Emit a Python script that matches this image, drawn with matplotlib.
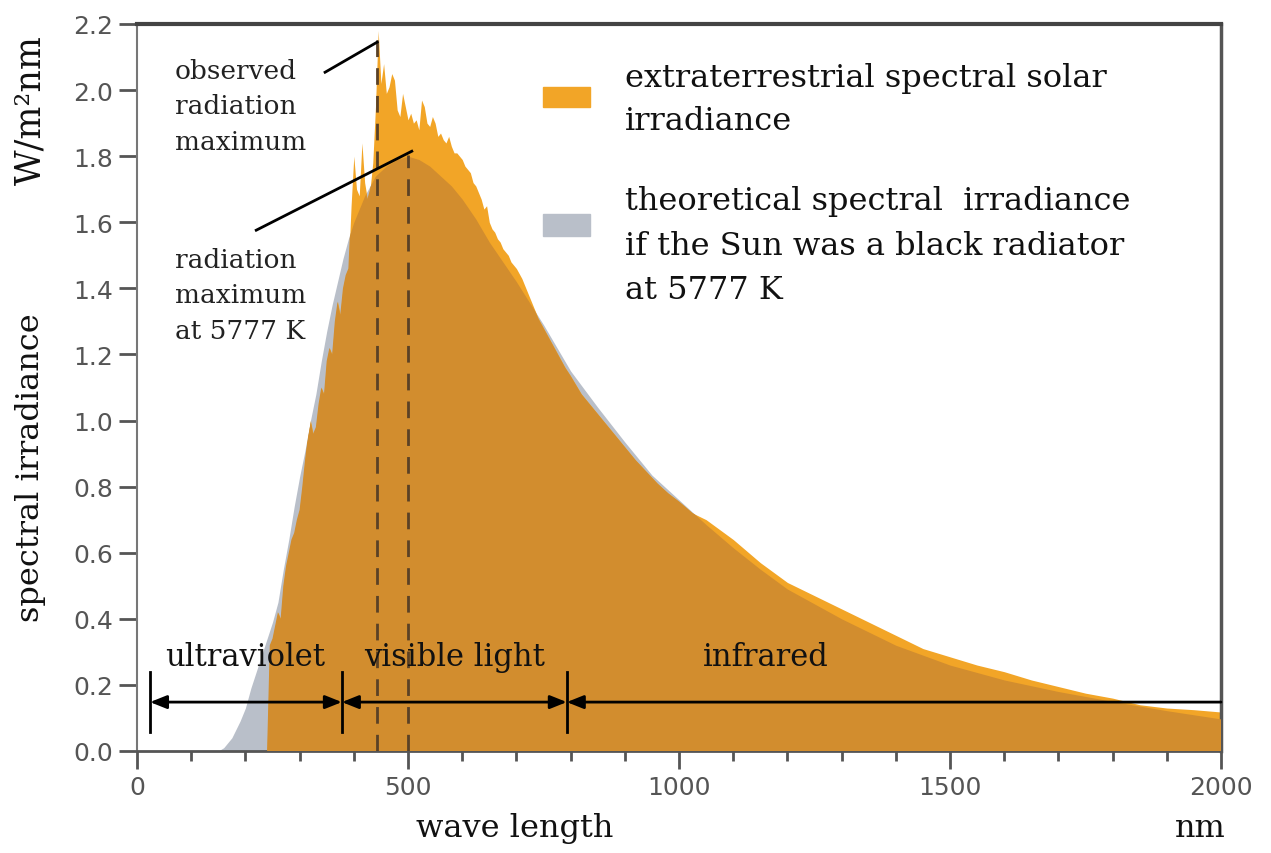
import numpy as np
import matplotlib
matplotlib.use("Agg")
import matplotlib.pyplot as plt
from matplotlib.patches import Rectangle

# theoretical black body curve (5777 K)
bb_nm = [150, 160, 175, 190, 200, 210, 220, 230, 240, 250, 260, 270, 280, 290,
         300, 310, 320, 330, 340, 350, 360, 370, 380, 390, 400, 420, 440, 460,
         480, 500, 520, 540, 560, 580, 600, 625, 650, 675, 700, 750, 800, 850,
         900, 950, 1000, 1050, 1100, 1150, 1200, 1300, 1400, 1500, 1600, 1700,
         1800, 1900, 2000]
bb_val = [0.0, 0.01, 0.04, 0.09, 0.13, 0.19, 0.24, 0.29, 0.34, 0.39, 0.45, 0.55,
          0.64, 0.74, 0.83, 0.91, 1.00, 1.08, 1.18, 1.27, 1.35, 1.42, 1.49, 1.55,
          1.60, 1.68, 1.74, 1.77, 1.79, 1.80, 1.79, 1.77, 1.74, 1.71, 1.67, 1.61,
          1.54, 1.48, 1.42, 1.29, 1.15, 1.04, 0.935, 0.835, 0.76, 0.685, 0.615,
          0.55, 0.49, 0.40, 0.32, 0.26, 0.215, 0.18, 0.15, 0.122, 0.097]

# extraterrestrial solar spectrum
sun_nm = [240, 245, 250, 255, 260, 265, 270, 275, 280, 285, 290, 295, 300, 305,
          310, 315, 320, 325, 330, 335, 340, 345, 350, 355, 360, 365, 370, 375,
          380, 385, 390, 395, 400, 405, 410, 415, 420, 425, 430, 435, 440, 445,
          450, 455, 460, 465, 470, 475, 480, 485, 490, 495, 500, 505, 510, 515,
          520, 525, 530, 535, 540, 545, 550, 555, 560, 565, 570, 575, 580, 585,
          590, 595, 600, 605, 610, 615, 620, 625, 630, 635, 640, 645, 650, 655,
          660, 665, 670, 675, 680, 685, 690, 695, 700, 710, 720, 730, 740, 750,
          760, 770, 780, 790, 800, 820, 840, 860, 880, 900, 920, 940, 960, 980,
          1000, 1025, 1050, 1075, 1100, 1150, 1200, 1250, 1300, 1350, 1400, 1450,
          1500, 1550, 1600, 1650, 1700, 1750, 1800, 1850, 1900, 1950, 2000]
sun_val = [0.00, 0.32, 0.34, 0.38, 0.42, 0.40, 0.50, 0.56, 0.60, 0.64, 0.66, 0.70,
           0.73, 0.80, 0.88, 0.95, 1.00, 0.96, 0.98, 1.05, 1.10, 1.08, 1.18, 1.22,
           1.20, 1.30, 1.36, 1.32, 1.40, 1.44, 1.46, 1.65, 1.80, 1.70, 1.68, 1.84,
           1.72, 1.67, 1.70, 1.78, 1.95, 2.18, 2.02, 2.08, 1.99, 2.01, 2.05, 2.03,
           1.94, 1.92, 1.99, 1.95, 1.91, 1.93, 1.90, 1.91, 1.88, 1.97, 1.95, 1.90,
           1.89, 1.92, 1.90, 1.86, 1.87, 1.85, 1.84, 1.86, 1.83, 1.81, 1.81, 1.80,
           1.79, 1.77, 1.76, 1.75, 1.72, 1.71, 1.69, 1.67, 1.64, 1.65, 1.60, 1.58,
           1.57, 1.55, 1.54, 1.52, 1.51, 1.50, 1.48, 1.47, 1.46, 1.43, 1.39, 1.35,
           1.31, 1.28, 1.25, 1.22, 1.19, 1.16, 1.135, 1.08, 1.04, 1.00, 0.96, 0.92,
           0.88, 0.845, 0.81, 0.78, 0.755, 0.72, 0.70, 0.67, 0.64, 0.57, 0.51, 0.47,
           0.43, 0.39, 0.35, 0.31, 0.285, 0.26, 0.24, 0.215, 0.195, 0.175, 0.16,
           0.14, 0.13, 0.125, 0.118]

# wavelength band borders (nm) and labels
band_edges = [24, 378, 793, 2000]
band_labels = ["ultraviolet", "visible light", "infrared"]
band_label_x = [200, 585, 1160]

obs_max = 443
bb_max = 500

orange = "#f2a527"
dark_orange = "#d28d2e"
grey = "#b9bfc9"
serif = "DejaVu Serif"

fig = plt.figure(figsize=(12.71, 8.54), dpi=100)
ax = fig.add_axes([137 / 1271, 102 / 854, 1084 / 1271, 727 / 854])

ax.fill_between(bb_nm, bb_val, color=grey, lw=0, zorder=1)
sun_poly = ax.fill_between(sun_nm, sun_val, color=orange, lw=0, zorder=2)
overlap = ax.fill_between(bb_nm, bb_val, color=dark_orange, lw=0, zorder=3)
overlap.set_clip_path(sun_poly.get_paths()[0], ax.transData)

# dashed maxima
ax.plot([obs_max, obs_max], [0, 2.155], ls=(0, (6, 4)), color="#5a4126", lw=2, zorder=4)
ax.plot([bb_max, bb_max], [0, 1.805], ls=(0, (6, 4)), color="#5a4126", lw=2, zorder=4)

# pointer lines
ax.plot([347, 443], [2.054, 2.145], color="black", lw=2, zorder=5)
ax.plot([220, 507], [1.576, 1.815], color="black", lw=2, zorder=5)

ax.text(70, 2.098, "observed\nradiation\nmaximum", family=serif, fontsize=19,
        va="top", ha="left", linespacing=1.52, color="#222222")
ax.text(70, 1.525, "radiation\nmaximum\nat 5777 K", family=serif, fontsize=19,
        va="top", ha="left", linespacing=1.52, color="#222222")

# wavelength bands
arrow_y = 0.148
for e in band_edges[:3]:
    ax.plot([e, e], [0.057, 0.24], color="black", lw=2, zorder=6)
for i in range(3):
    style = "<|-|>" if i < 2 else "<|-"
    ax.annotate("", xy=(band_edges[i + 1], arrow_y), xytext=(band_edges[i], arrow_y),
                arrowprops=dict(arrowstyle=style + ",head_length=1.0,head_width=0.4",
                                color="black", lw=2, shrinkA=0, shrinkB=0),
                zorder=6)
    ax.text(band_label_x[i], 0.285, band_labels[i], family=serif, fontsize=22,
            ha="center", va="center", color="#111111", zorder=7)

# legend
ax.add_patch(Rectangle((0.3745, 0.886), 0.0435, 0.027, transform=ax.transAxes,
                       color=orange, zorder=8))
ax.add_patch(Rectangle((0.3745, 0.708), 0.0435, 0.031, transform=ax.transAxes,
                       color=grey, zorder=8))
ax.text(0.450, 0.948, "extraterrestrial spectral solar\nirradiance",
        transform=ax.transAxes, family=serif, fontsize=23, va="top",
        linespacing=1.5, color="#111111")
ax.text(0.450, 0.778, "theoretical spectral  irradiance\nif the Sun was a black radiator\nat 5777 K",
        transform=ax.transAxes, family=serif, fontsize=23, va="top",
        linespacing=1.55, color="#111111")

ax.set_xlim(0, 2000)
ax.set_ylim(0, 2.2)
ax.set_xticks(np.arange(0, 2001, 500))
ax.set_xticks(np.arange(0, 2001, 100), minor=True)
ax.set_yticks(np.arange(0, 2.21, 0.2))
ax.set_yticklabels([f"{v:.1f}" for v in np.arange(0, 2.21, 0.2)])
ax.tick_params(axis="both", which="major", direction="out", length=13, width=2,
               color="#555555", labelcolor="#555555", labelsize=18, pad=4)
ax.tick_params(axis="x", which="minor", direction="out", length=7, width=2,
               color="#555555")
for lab in ax.get_xticklabels() + ax.get_yticklabels():
    lab.set_family("DejaVu Sans")

ax.spines["top"].set_linewidth(3)
ax.spines["top"].set_color("#444444")
ax.spines["right"].set_linewidth(2.5)
ax.spines["right"].set_color("#555555")
ax.spines["left"].set_linewidth(1.5)
ax.spines["left"].set_color("#777777")
ax.spines["bottom"].set_linewidth(2)
ax.spines["bottom"].set_color("#555555")

fig.text(0.405, 0.030, "wave length", family=serif, fontsize=23, ha="center",
         va="center", color="#111111")
fig.text(0.944, 0.030, "nm", family=serif, fontsize=23, ha="center",
         va="center", color="#111111")
fig.text(0.024, 0.452, "spectral irradiance", family=serif, fontsize=23,
         rotation=90, ha="center", va="center", color="#111111")
fig.text(0.024, 0.871, "W/m²nm", family=serif, fontsize=25,
         rotation=90, ha="center", va="center", color="#111111")

fig.savefig("out.png", dpi=100)
